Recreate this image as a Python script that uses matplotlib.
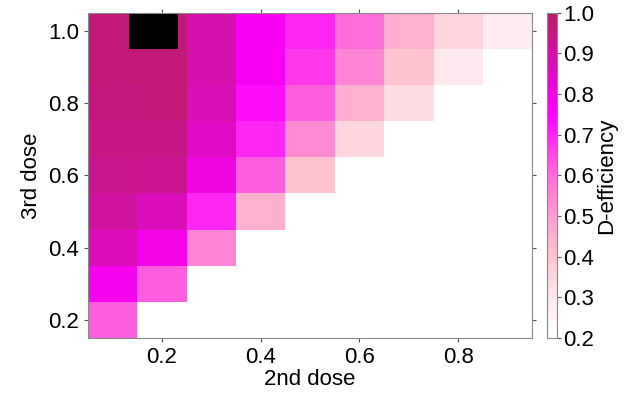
import numpy as np
import matplotlib.pyplot as plt
from matplotlib.colors import LinearSegmentedColormap
from matplotlib.patches import Rectangle

plt.rcParams['font.family'] = ['Liberation Sans', 'DejaVu Sans']

# grid of doses
dose2 = [0.1, 0.2, 0.3, 0.4, 0.5, 0.6, 0.7, 0.8, 0.9]
dose3 = [0.2, 0.3, 0.4, 0.5, 0.6, 0.7, 0.8, 0.9, 1.0]

# D-efficiency per row of 3rd dose (only cells where 2nd dose < 3rd dose)
eff_02 = [0.62]
eff_03 = [0.78, 0.62]
eff_04 = [0.87, 0.79, 0.55]
eff_05 = [0.91, 0.87, 0.70, 0.45]
eff_06 = [0.94, 0.93, 0.80, 0.62, 0.40]
eff_07 = [0.95, 0.95, 0.85, 0.70, 0.54, 0.35]
eff_08 = [0.96, 0.97, 0.88, 0.73, 0.62, 0.45, 0.33]
eff_09 = [0.97, 0.97, 0.89, 0.77, 0.67, 0.55, 0.40, 0.30]
eff_10 = [0.97, 0.97, 0.89, 0.77, 0.70, 0.60, 0.45, 0.35, 0.28]
rows = [eff_02, eff_03, eff_04, eff_05, eff_06, eff_07, eff_08, eff_09, eff_10]

# optimum design (black cell)
opt_x, opt_y = 0.183, 1.0

Z = np.full((len(dose3), len(dose2)), np.nan)
for i, r in enumerate(rows):
    Z[i, :len(r)] = r
Z = np.ma.masked_invalid(Z)

cmap = LinearSegmentedColormap.from_list('deff', [
    (0.0, '#ffffff'),
    (0.125, '#fde8ec'),
    (0.25, '#ffc4cf'),
    (0.375, '#ff9dd0'),
    (0.5, '#ff6cda'),
    (0.6875, '#ff00ff'),
    (0.85, '#d80fb4'),
    (1.0, '#b81c64'),
])

fig = plt.figure(figsize=(6.24, 3.94), dpi=100)
ax = fig.add_axes([0.141, 0.142, 0.712, 0.826])
cax = fig.add_axes([0.877, 0.142, 0.016, 0.826])

xe = np.arange(0.05, 1.0, 0.1)
ye = np.arange(0.15, 1.1, 0.1)
mesh = ax.pcolormesh(xe, ye, Z, cmap=cmap, vmin=0.2, vmax=1.0)
ax.add_patch(Rectangle((opt_x - 0.05, opt_y - 0.05), 0.1, 0.1, color='black', lw=0))

ax.set_xlim(0.05, 0.95)
ax.set_ylim(0.15, 1.05)
ax.set_xticks([0.2, 0.4, 0.6, 0.8])
ax.set_yticks([0.2, 0.4, 0.6, 0.8, 1.0])
ax.tick_params(direction='out', length=3, width=0.8, color='#555555',
               labelsize=16, top=True, right=True, labeltop=False, labelright=False)
for s in ax.spines.values():
    s.set_color('#888888')
    s.set_linewidth(0.8)
ax.set_xlabel('2nd dose', fontsize=16, labelpad=1)
ax.set_ylabel('3rd dose', fontsize=16, labelpad=4)

cb = fig.colorbar(mesh, cax=cax)
cb.set_ticks([0.2, 0.3, 0.4, 0.5, 0.6, 0.7, 0.8, 0.9, 1.0])
cb.ax.tick_params(labelsize=16, length=3, width=0.8, color='#555555', pad=1)
cb.outline.set_edgecolor('#888888')
cb.outline.set_linewidth(0.8)
cb.set_label('D-efficiency', fontsize=16, labelpad=2)

fig.savefig('out.png', dpi=100)
